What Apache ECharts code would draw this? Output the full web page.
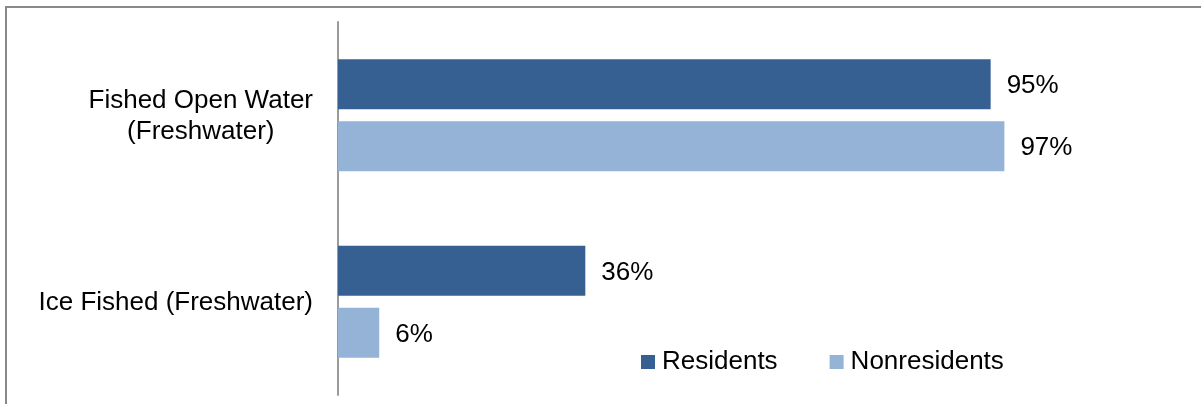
<!doctype html>
<html>

<head>
    <meta charset="utf-8">
    <title>Fishing</title>
    <script type="text/javascript" src="https://cdn.jsdelivr.net/npm/echarts@6/dist/echarts.min.js"></script>
</head>

<body style="margin:0;padding:0;background:#fff">
    <!-- chart frame: only top and left edges show in the picture -->
    <div style="position:absolute;left:5px;top:6px;right:0;bottom:0;border-top:2px solid #898989;border-left:2px solid #898989"></div>
    <div id="tb" style="position:absolute;left:0;top:0;width:1201px;height:404px"></div>
    <script>
        var categories = ['Fished Open Water\n(Freshwater)', 'Ice Fished (Freshwater)'];
        var residents = [95, 36];
        var nonresidents = [97, 6];
        var colors = ['#366092', '#95B3D7'];
        var font = '"Liberation Sans", Arial, sans-serif';

        var chart = echarts.init(document.getElementById('tb'));
        chart.setOption({
            animation: false,
            grid: {
                left: 338,
                right: 176,
                top: 22,
                bottom: 9
            },
            legend: {
                left: 636,
                top: 344,
                icon: 'rect',
                itemWidth: 14,
                itemHeight: 14,
                itemGap: 52,
                textStyle: {
                    fontSize: 26,
                    fontFamily: font,
                    color: '#000',
                    padding: [0, 0, 0, 2]
                },
                data: ['Residents', 'Nonresidents']
            },
            xAxis: {
                type: 'value',
                min: 0,
                max: 100,
                show: false
            },
            yAxis: {
                type: 'category',
                inverse: true,
                data: categories,
                axisLine: {
                    lineStyle: {
                        color: '#9a9a9a',
                        width: 2
                    }
                },
                axisTick: { show: false },
                axisLabel: {
                    margin: 25,
                    align: 'right',
                    formatter: function (v) {
                        // each line centred inside the right-aligned block
                        return v.split('\n').map(function (s) {
                            return '{c|' + s + '}';
                        }).join('\n');
                    },
                    rich: {
                        c: {
                            align: 'center',
                            fontSize: 26,
                            lineHeight: 31,
                            fontFamily: font,
                            color: '#000',
                            padding: [3, 0, 0, 0]
                        }
                    }
                }
            },
            series: [{
                name: 'Residents',
                type: 'bar',
                data: residents,
                barWidth: 50,
                barGap: '24%',
                itemStyle: { color: colors[0] },
                label: {
                    show: true,
                    position: 'right',
                    distance: 16,
                    offset: [0, 2],
                    formatter: '{c}%',
                    fontSize: 26,
                    fontFamily: font,
                    color: '#000'
                }
            }, {
                name: 'Nonresidents',
                type: 'bar',
                data: nonresidents,
                barWidth: 50,
                barGap: '24%',
                itemStyle: { color: colors[1] },
                label: {
                    show: true,
                    position: 'right',
                    distance: 16,
                    offset: [0, 2],
                    formatter: '{c}%',
                    fontSize: 26,
                    fontFamily: font,
                    color: '#000'
                }
            }]
        });
    </script>
</body>

</html>
